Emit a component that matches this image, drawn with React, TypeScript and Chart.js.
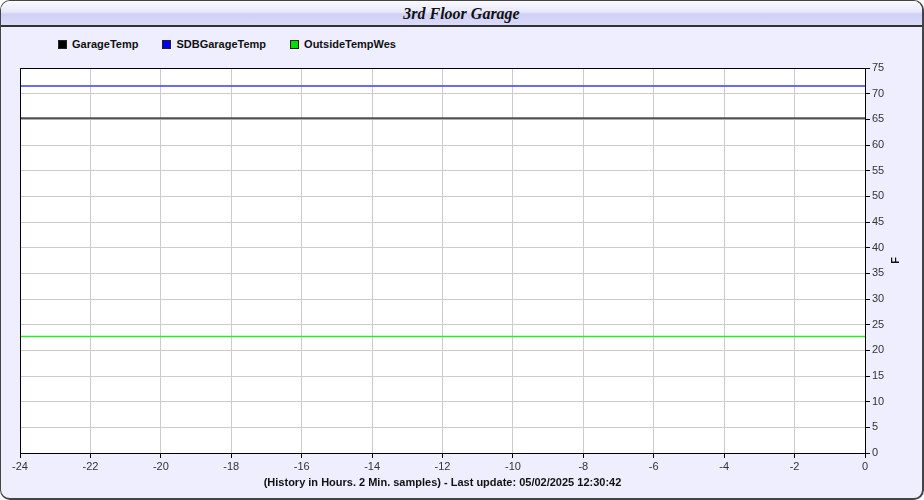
import React, { useEffect, useRef } from "react";
import { Chart, registerables } from "chart.js";
Chart.register(...registerables);

const chartTitle = "3rd Floor Garage";
const xAxisTitle = "(History in Hours. 2 Min. samples) - Last update: 05/02/2025 12:30:42";
const yAxisTitle = "F";
const hours = [-24, -22, -20, -18, -16, -14, -12, -10, -8, -6, -4, -2, 0];
const garageTemp = [65.2, 65.2, 65.2, 65.2, 65.2, 65.2, 65.2, 65.2, 65.2, 65.2, 65.2, 65.2, 65.2];
const sdbGarageTemp = [71.5, 71.5, 71.5, 71.5, 71.5, 71.5, 71.5, 71.5, 71.5, 71.5, 71.5, 71.5, 71.5];
const outsideTempWes = [22.7, 22.7, 22.7, 22.7, 22.7, 22.7, 22.7, 22.7, 22.7, 22.7, 22.7, 22.7, 22.7];
const seriesNames = ["GarageTemp", "SDBGarageTemp", "OutsideTempWes"];
const seriesValues = [garageTemp, sdbGarageTemp, outsideTempWes];
const lineColors = ["#505050", "#3a3aff", "#2ee82e"];
const legendColors = ["#000000", "#0000ee", "#00dd00"];
const xMin = -24, xMax = 0, xStep = 2;
const yMin = 0, yMax = 75, yStep = 5;

const FONT = "'Liberation Sans', Arial, sans-serif";

export default function App() {
  const ref = useRef<HTMLCanvasElement | null>(null);
  useEffect(() => {
    document.body.style.margin = "0";
    const plotBg = {
      id: "plotBg",
      beforeDraw(chart: any) {
        const { ctx, chartArea: a } = chart;
        ctx.save();
        ctx.fillStyle = "#ffffff";
        ctx.fillRect(a.left, a.top, a.right - a.left, a.bottom - a.top);
        ctx.restore();
      },
    };
    const plotBorder = {
      id: "plotBorder",
      afterDraw(chart: any) {
        const { ctx, chartArea: a } = chart;
        ctx.save();
        ctx.strokeStyle = "#000";
        ctx.lineWidth = 1;
        ctx.strokeRect(a.left + 0.5, a.top + 0.5, a.right - a.left, a.bottom - a.top);
        ctx.fillStyle = "#111";
        ctx.font = "bold 11px " + FONT;
        ctx.textAlign = "center";
        ctx.textBaseline = "middle";
        ctx.translate(896, (a.top + a.bottom) / 2);
        ctx.rotate(-Math.PI / 2);
        ctx.fillText(yAxisTitle, 0, 0);
        ctx.restore();
      },
    };
    const chart = new Chart(ref.current as HTMLCanvasElement, {
      type: "line",
      data: {
        datasets: seriesNames.map((name, i) => ({
          label: name,
          data: hours.map((h, j) => ({ x: h, y: seriesValues[i][j] })),
          borderColor: lineColors[i],
          backgroundColor: lineColors[i],
          borderWidth: i === 0 ? 2 : 1.5,
          pointRadius: 0,
          tension: 0,
        })),
      },
      options: {
        animation: false,
        responsive: false,
        devicePixelRatio: 1,
        layout: { padding: { left: 20, top: 68, right: 0, bottom: 0 } },
        plugins: { legend: { display: false }, tooltip: { enabled: false } },
        scales: {
          x: {
            type: "linear",
            min: xMin,
            max: xMax,
            ticks: { stepSize: xStep, color: "#333", font: { size: 11, family: FONT }, padding: 2, maxRotation: 0 },
            grid: { color: "#cccccc", tickColor: "#000", tickLength: 5 },
            border: { color: "#000" },
            title: {
              display: true,
              text: xAxisTitle,
              color: "#111",
              font: { size: 11, weight: "bold", family: FONT },
              padding: { top: 0, bottom: 10 },
            },
            afterFit: (s: any) => { s.height = 47; },
          },
          y: {
            position: "right",
            min: yMin,
            max: yMax,
            ticks: { stepSize: yStep, color: "#333", font: { size: 11, family: FONT }, padding: 2 },
            grid: { color: "#cccccc", tickColor: "#000", tickLength: 5 },
            border: { color: "#000" },
            afterFit: (s: any) => { s.width = 59; },
          },
        },
      } as any,
      plugins: [plotBg, plotBorder],
    });
    return () => chart.destroy();
  }, []);

  return (
    <div
      style={{
        position: "absolute",
        left: 0,
        top: 0,
        width: 924,
        height: 500,
        boxSizing: "border-box",
        border: "1px solid #444",
        borderRightWidth: 2,
        borderBottomWidth: 2,
        borderRadius: 10,
        background: "#eeeeff",
        overflow: "hidden",
        fontFamily: FONT,
      }}
    >
      <div
        style={{
          position: "absolute",
          left: 0,
          top: 0,
          right: 0,
          height: 24,
          borderBottom: "2px solid #333",
          background: "linear-gradient(#fafaff 0%, #e8e8fc 45%, #d0d0f6 55%, #dadaf8 100%)",
          textAlign: "center",
          lineHeight: "25px",
          fontFamily: "'Liberation Serif', 'Times New Roman', serif",
          fontStyle: "italic",
          fontWeight: "bold",
          fontSize: 16,
          color: "#111",
        }}
      >
        {chartTitle}
      </div>
      <div
        style={{
          position: "absolute",
          left: 57,
          top: 36,
          display: "flex",
          gap: 24,
          fontSize: 11,
          fontWeight: "bold",
          color: "#111",
          lineHeight: "14px",
        }}
      >
        {seriesNames.map((n, i) => (
          <div key={n} style={{ display: "flex", alignItems: "center" }}>
            <span
              style={{
                display: "inline-block",
                width: 7,
                height: 7,
                background: legendColors[i],
                border: "1px solid #222",
                marginRight: 5,
              }}
            />
            {n}
          </div>
        ))}
      </div>
      <canvas
        ref={ref}
        width={924}
        height={500}
        style={{ position: "absolute", left: -1, top: -1, width: 924, height: 500 }}
      />
    </div>
  );
}
